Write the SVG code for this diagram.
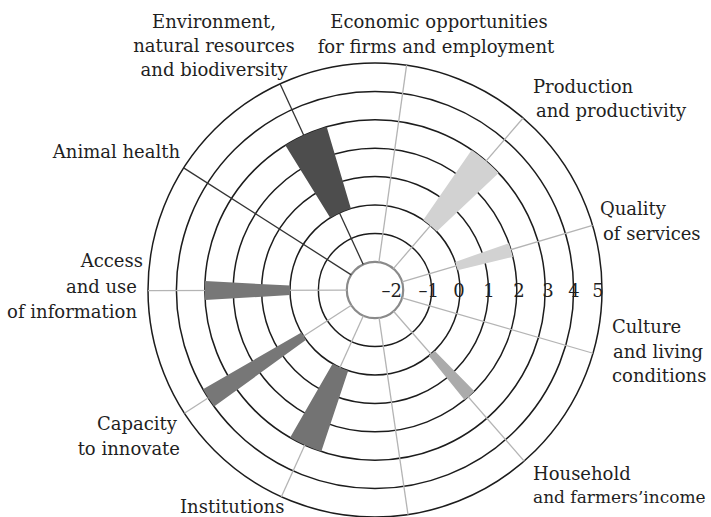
<svg xmlns="http://www.w3.org/2000/svg" width="711" height="517" viewBox="0 0 711 517">
<style>
  .lbl { font-family: "DejaVu Serif", "Liberation Serif", serif; font-size: 18px; fill: #1f1f1f; }
  .end { text-anchor: end; }
  .mid { text-anchor: middle; }
  .ring { fill: none; stroke: #1c1c1c; stroke-width: 1.5; }
  .inner { fill: none; stroke: #8a8a8a; stroke-width: 2.2; }
  .sp-d { stroke: #333; stroke-width: 1.3; }
  .sp-l { stroke: #b4b4b4; stroke-width: 1.3; }
</style>
<rect width="711" height="517" fill="#fff"/>
<g id="grid">
  <circle class="ring" cx="375" cy="290" r="227"/>
  <circle class="ring" cx="375" cy="290" r="198.6"/>
  <circle class="ring" cx="375" cy="290" r="170.2"/>
  <circle class="ring" cx="375" cy="290" r="141.8"/>
  <circle class="ring" cx="375" cy="290" r="113.4"/>
  <circle class="ring" cx="375" cy="290" r="85"/>
  <circle class="ring" cx="375" cy="290" r="56.6"/>
  <circle class="inner" cx="375" cy="290" r="28.2"/>
</g>
<g id="spokes">
  <line class="sp-l" x1="378.92" y1="262.07" x2="406.59" y2="65.21"/>
  <line class="sp-l" x1="393.40" y1="268.63" x2="523.12" y2="117.98"/>
  <line class="sp-l" x1="402.03" y1="281.97" x2="592.60" y2="225.35"/>
  <line class="sp-l" x1="402.08" y1="297.86" x2="593.00" y2="353.25"/>
  <line class="sp-l" x1="393.53" y1="311.25" x2="524.19" y2="461.09"/>
  <line class="sp-l" x1="379.10" y1="317.90" x2="408.01" y2="514.59"/>
  <line class="sp-l" x1="363.37" y1="315.69" x2="281.37" y2="496.79"/>
  <line class="sp-l" x1="351.32" y1="305.32" x2="184.41" y2="413.31"/>
  <line class="sp-l" x1="346.80" y1="290.09" x2="148.00" y2="290.71"/>
  <line class="sp-d" x1="351.23" y1="274.83" x2="183.66" y2="167.86"/>
  <line class="sp-d" x1="363.20" y1="264.39" x2="280.02" y2="83.82"/>
</g>
<g id="environment">
  <path d="M285.31,145.35 A170.2,170.2 0 0 1 326.66,126.81 L350.86,208.50 A85,85 0 0 0 330.21,217.76 Z" fill="#4d4d4d"/>
  <text class="lbl mid" x="214" y="28">Environment,</text>
  <text class="lbl mid" x="214" y="52">natural resources</text>
  <text class="lbl mid" x="214" y="76">and biodiversity</text>
</g>
<g id="economic">
  <text class="lbl mid" x="439" y="28">Economic opportunities</text>
  <text class="lbl mid" x="436" y="53">for firms and employment</text>
</g>
<g id="production">
  <path d="M471.65,149.90 A170.2,170.2 0 0 1 498.63,173.02 L436.74,231.58 A85,85 0 0 0 423.27,220.03 Z" fill="#d2d2d2"/>
  <text class="lbl" x="533" y="93">Production</text>
  <text class="lbl" x="536" y="117">and productivity</text>
</g>
<g id="quality">
  <path d="M508.83,243.13 A141.8,141.8 0 0 1 512.88,256.90 L457.65,270.16 A85,85 0 0 0 455.22,261.91 Z" fill="#d2d2d2"/>
  <text class="lbl" x="600" y="215">Quality</text>
  <text class="lbl" x="603" y="240">of services</text>
</g>
<g id="culture">
  <text class="lbl" x="612" y="333">Culture</text>
  <text class="lbl" x="613" y="358">and living</text>
  <text class="lbl" x="612" y="382">conditions</text>
</g>
<g id="household">
  <path d="M474.39,391.14 A141.8,141.8 0 0 1 464.62,399.89 L428.72,355.87 A85,85 0 0 0 434.58,350.63 Z" fill="#ababab"/>
  <text class="lbl" x="533" y="480">Household</text>
  <text class="lbl" x="533" y="503" style="font-size:17px">and farmers’income</text>
</g>
<g id="institutions">
  <path d="M321.28,451.50 A170.2,170.2 0 0 1 290.16,437.55 L332.63,363.69 A85,85 0 0 0 348.17,370.65 Z" fill="#737373"/>
  <text class="lbl" x="180" y="513">Institutions</text>
</g>
<g id="capacity">
  <path d="M214.13,406.45 A198.6,198.6 0 0 1 203.01,389.30 L301.39,332.50 A85,85 0 0 0 306.15,339.84 Z" fill="#777"/>
  <text class="lbl end" x="177" y="430">Capacity</text>
  <text class="lbl end" x="180" y="455">to innovate</text>
</g>
<g id="access">
  <path d="M205.10,300.09 A170.2,170.2 0 0 1 205.03,281.09 L290.12,285.55 A85,85 0 0 0 290.15,295.04 Z" fill="#777"/>
  <text class="lbl end" x="143" y="267">Access</text>
  <text class="lbl end" x="137" y="293">and use</text>
  <text class="lbl end" x="137" y="318">of information</text>
</g>
<g id="animal">
  <text class="lbl end" x="180" y="158">Animal health</text>
</g>
<g id="scale">
  <text class="lbl end" x="402" y="297">–2</text>
  <text class="lbl end" x="439" y="297">–1</text>
  <text class="lbl mid" x="459" y="297">0</text>
  <text class="lbl mid" x="489" y="297">1</text>
  <text class="lbl mid" x="519" y="297">2</text>
  <text class="lbl mid" x="548" y="297">3</text>
  <text class="lbl mid" x="574" y="297">4</text>
  <text class="lbl mid" x="598" y="297">5</text>
</g>
</svg>
